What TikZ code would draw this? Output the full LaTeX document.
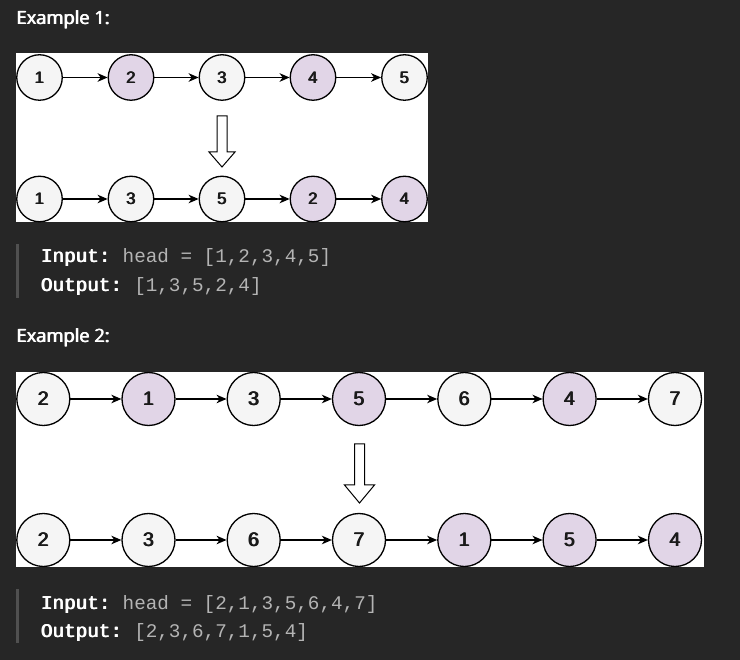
\documentclass[tikz,border=0pt]{standalone}
\usepackage{fontspec}
\setmainfont{Liberation Sans}
\newfontfamily\digitfont{Liberation Sans}
\newfontfamily\headfont{Open Sans}
\newfontfamily\codefont{Liberation Mono}
\usetikzlibrary{arrows.meta}
\definecolor{bgc}{HTML}{262626}
\definecolor{nodegray}{HTML}{F5F5F5}
\definecolor{nodepurple}{HTML}{E1D5E7}
\definecolor{digit}{HTML}{1A1A1A}
\definecolor{codegray}{HTML}{B4B4B4}
\definecolor{barc}{HTML}{505050}
\frenchspacing
% overprinted copies thicken the strokes (no bold face is available)
\newcommand{\thick}[2][0.8pt]{\rlap{#2}\rlap{\kern0.5\dimexpr#1\relax#2}\rlap{\kern#1\relax#2}\kern#1\relax\phantom{#2}}
\tikzset{
  lnode/.style={circle, draw=black, line width=1.3pt, inner sep=0pt, text=digit},
  sA/.style={lnode, minimum size=45.5pt, font=\digitfont\fontsize{16.5}{16.5}\selectfont},
  sB/.style={lnode, minimum size=53pt, font=\digitfont\fontsize{19.5}{19.5}\selectfont},
  g/.style={fill=nodegray},
  p/.style={fill=nodepurple},
  link/.style={draw=black, line width=1.3pt, -{Stealth[length=10pt,width=8.5pt,inset=3pt]}},
  hollow/.style={draw=black, fill=white, line width=1pt},
  heading/.style={anchor=base west, text=white, font=\headfont\fontsize{18.3}{18.3}\selectfont, inner sep=0pt},
  code/.style={anchor=base west, inner sep=0pt, font=\codefont\fontsize{19.3}{19.3}\selectfont, text=codegray},
  bar/.style={fill=barc}
}
\newcommand{\kwd}[1]{\textcolor{white}{\thick[0.9pt]{#1}}}
\begin{document}
\begin{tikzpicture}[x=1pt,y=-1pt]
\fill[bgc] (0,0) rectangle (740,660);
\useasboundingbox (0,0) rectangle (740,660);

% Example 1
\node[heading] (h1) at (16,24.5) {\thick[0.9pt]{Example 1:}};
\fill[white] (16,53.3) rectangle (427.5,221.7);
\foreach \n/\x/\s in {1/39.5/g,2/131/p,3/222/g,4/313/p,5/404.5/g}
  \node[sA,\s] (a\n) at (\x,77.5) {\thick[1pt]{\n}};
\foreach \n/\x/\v/\s in {1/39.5/1/g,2/131/3/g,3/222/5/g,4/313/2/p,5/404.5/4/p}
  \node[sA,\s] (b\n) at (\x,199) {\thick[1pt]{\v}};
\foreach \i/\j in {1/2,2/3,3/4,4/5} {
  \draw[link] (a\i) -- (a\j);
  \draw[link] (b\i) -- (b\j);
}
\draw[hollow] (217,116) -- (227,116) -- (227,152) -- (235,152) -- (222,167) -- (209,152) -- (217,152) -- cycle;

\fill[bar] (16,244) rectangle (18.5,298);
\node[code] (in1) at (40.5,263) {\kwd{Input:} head = [1,2,3,4,5]};
\node[code] (out1) at (40.5,292) {\kwd{Output:} [1,3,5,2,4]};

% Example 2
\node[heading] (h2) at (16,342.5) {\thick[0.9pt]{Example 2:}};
\fill[white] (16,371.7) rectangle (703.5,566.7);
\foreach \n/\x/\v/\s in {1/43.3/2/g,2/148.5/1/p,3/253.7/3/g,4/359/5/p,5/464.3/6/g,6/569.6/4/p,7/675/7/g}
  \node[sB,\s] (c\n) at (\x,399) {\thick[1.1pt]{\v}};
\foreach \n/\x/\v/\s in {1/43.3/2/g,2/148.5/3/g,3/253.7/6/g,4/359/7/g,5/464.3/1/p,6/569.6/5/p,7/675/4/p}
  \node[sB,\s] (d\n) at (\x,540) {\thick[1.1pt]{\v}};
\foreach \i/\j in {1/2,2/3,3/4,4/5,5/6,6/7} {
  \draw[link] (c\i) -- (c\j);
  \draw[link] (d\i) -- (d\j);
}
\draw[hollow] (354.5,444) -- (364.5,444) -- (364.5,485) -- (374.5,485) -- (359.5,503) -- (344.5,485) -- (354.5,485) -- cycle;

\fill[bar] (16,589) rectangle (18.5,643);
\node[code] (in2) at (40.5,609) {\kwd{Input:} head = [2,1,3,5,6,4,7]};
\node[code] (out2) at (40.5,637.5) {\kwd{Output:} [2,3,6,7,1,5,4]};
\end{tikzpicture}
\end{document}
